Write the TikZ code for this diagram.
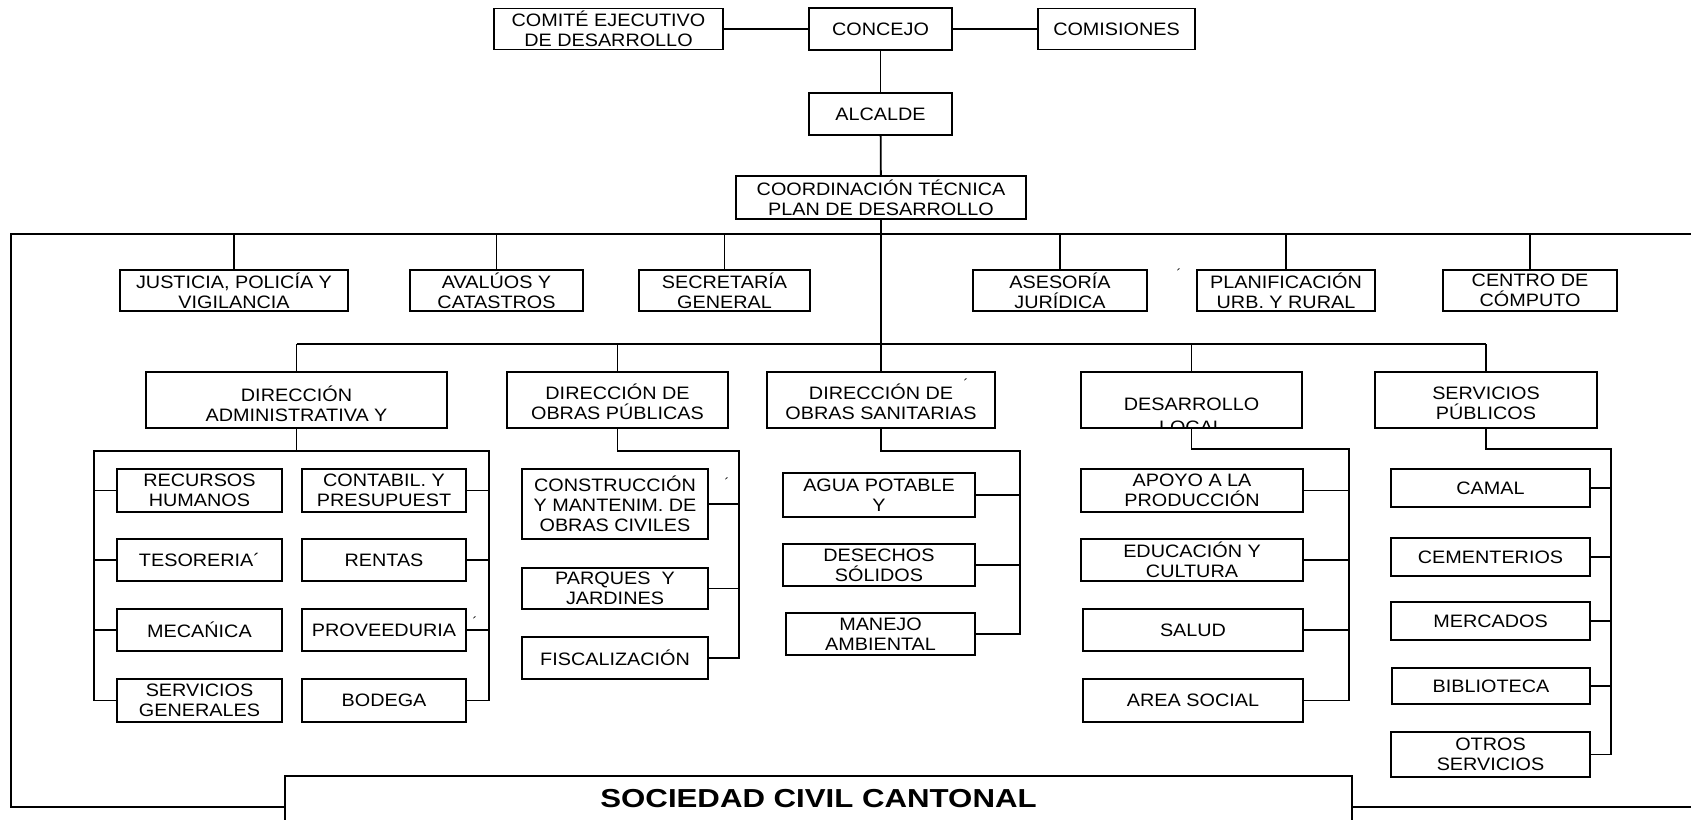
\documentclass[tikz,border=0pt]{standalone}
\usepackage{fontspec}
\setmainfont{Liberation Sans}[FakeStretch=1.1]
\newfontfamily\socfont{Liberation Sans}[FakeStretch=1.2]
\usetikzlibrary{calc}
\newcommand\fs{\fontsize{18}{20}\selectfont}
\tikzset{
  bx/.style={draw, line width=1.8pt, inner sep=0pt, align=center, font=\fs},
  txt/.style={inner sep=0pt, align=center, font=\fs},
  ln/.style={line width=1.8pt},
  stray/.style={inner sep=0pt, font=\fontsize{13}{13}\selectfont},
}
\newcommand\obox[6]{\node[bx, minimum width=#4pt, minimum height=#5pt] (#1) at (#2,#3) {#6};}
\begin{document}
\begin{tikzpicture}[x=1pt,y=-1pt]
\useasboundingbox (0,0) rectangle (1691,819);
\clip (0,0) rectangle (1691,819);
\fill[white] (0,0) rectangle (1691,819);

% top
\obox{comite}{608.5}{29}{229}{41}{COMITÉ EJECUTIVO\\DE DESARROLLO}
\obox{concejo}{880.5}{29}{143}{42}{CONCEJO}
\obox{comisiones}{1116.5}{29}{157}{41}{COMISIONES}
\obox{alcalde}{880.5}{114}{143}{42}{ALCALDE}
\obox{coord}{881}{197.5}{290}{43}{COORDINACIÓN TÉCNICA\\PLAN DE DESARROLLO}

% row 2
\obox{justicia}{234}{290.5}{228}{41}{JUSTICIA, POLICÍA Y\\VIGILANCIA}
\obox{avaluos}{496.5}{290.5}{173}{41}{AVALÚOS Y\\CATASTROS}
\obox{secretaria}{724.5}{290.5}{171}{41}{SECRETARÍA\\GENERAL}
\obox{asesoria}{1060}{290.5}{174}{41}{ASESORÍA\\JURÍDICA}
\obox{planif}{1286}{290.5}{178}{41}{PLANIFICACIÓN\\URB. Y RURAL}
\obox{centro}{1530}{290.5}{174}{41}{CENTRO DE\\CÓMPUTO}

% direcciones
\obox{dadm}{296.5}{400}{301}{56}{}
\obox{dobras}{617.5}{400}{221}{56}{}
\obox{dsan}{881}{400}{228}{56}{}
\obox{ddes}{1191.5}{400}{221}{56}{}
\obox{dserv}{1486}{400}{222}{56}{}
\node[txt] (dadmT) at (296.5,404) {DIRECCIÓN\\ADMINISTRATIVA Y};
\node[txt] (dobrasT) at (617.5,402) {DIRECCIÓN DE\\OBRAS PÚBLICAS};
\node[txt] (dsanT) at (881,401.5) {DIRECCIÓN DE\\OBRAS SANITARIAS};
\node[txt] (dservT) at (1486,403.5) {SERVICIOS\\PÚBLICOS};
\begin{scope}
\clip (1082,373) rectangle (1301,426);
\node[txt] (ddesT) at (1191.5,416) {DESARROLLO\\[2.5pt]LOCAL};
\end{scope}

% administrativa
\obox{rh}{199.5}{490.5}{165}{43}{RECURSOS\\HUMANOS}
\obox{cont}{384}{490.5}{164}{43}{CONTABIL. Y\\PRESUPUEST}
\obox{tes}{199.5}{560}{165}{42}{TESORERIA´}
\obox{rent}{384}{560}{164}{42}{RENTAS}
\obox{mec}{199.5}{630}{165}{42}{MECAŃICA}
\obox{prov}{384}{630}{164}{42}{PROVEEDURIA}
\obox{sg}{199.5}{700.5}{165}{43}{SERVICIOS\\GENERALES}
\obox{bod}{384}{700.5}{164}{43}{BODEGA}

% obras publicas
\obox{constr}{615}{504}{186}{70}{CONSTRUCCIÓN\\Y MANTENIM. DE\\OBRAS CIVILES}
\obox{parques}{615}{588.5}{186}{41}{PARQUES\ \ Y\\JARDINES}
\obox{fisc}{615}{658}{186}{42}{FISCALIZACIÓN}

% obras sanitarias
\obox{agua}{879}{495}{192}{44}{AGUA POTABLE\\Y}
\obox{desechos}{879}{565}{192}{42}{DESECHOS\\SÓLIDOS}
\obox{manejo}{880.5}{634}{189}{42}{MANEJO\\AMBIENTAL}

% desarrollo local
\obox{apoyo}{1192}{490.5}{222}{43}{APOYO A LA\\PRODUCCIÓN}
\obox{educ}{1192}{560}{222}{42}{EDUCACIÓN Y\\CULTURA}
\obox{salud}{1193}{630}{220}{42}{SALUD}
\obox{area}{1193}{700.5}{220}{43}{AREA SOCIAL}

% servicios publicos
\obox{camal}{1490.5}{488}{199}{38}{CAMAL}
\obox{cement}{1490.5}{557}{199}{38}{CEMENTERIOS}
\obox{mercados}{1490.5}{621}{199}{38}{MERCADOS}
\obox{biblio}{1491}{686}{198}{36}{BIBLIOTECA}
\obox{otros}{1490.5}{754.5}{199}{45}{OTROS\\SERVICIOS}

% sociedad civil
\obox{soc}{818.5}{799}{1067}{46}{{\socfont\bfseries\fontsize{26}{28}\selectfont SOCIEDAD CIVIL CANTONAL}}

% stray marks
\node[stray] (s1) at (1179,274) {´};
\node[stray] (s2) at (966,384) {´};
\node[stray] (s3) at (475,622) {´};
\node[stray] (s4) at (727,483) {´};

% connectors top
\draw[ln] (comite) -- (concejo);
\draw[ln] (concejo) -- (comisiones);
\draw[ln] (concejo) -- (alcalde);
\draw[ln] (alcalde) -- (coord);
\draw[ln] (coord) -- (dsan);

% frame
\coordinate (fTL) at (11,234);
\coordinate (fTR) at (1700,234);
\coordinate (fBL) at (11,807);
\coordinate (fBR) at (1700,807);
\draw[ln] (fTR) -- (fTL) -- (fBL) -- (fBL -| soc.west);
\draw[ln] (soc.east |- fBR) -- (fBR);

\foreach \n in {justicia,avaluos,secretaria,asesoria,planif,centro}
  \draw[ln] (\n.north) -- (\n.north |- fTL);

% bus
\coordinate (busY) at (0,344);
\draw[ln] (dadm.north |- busY) -- (dserv.north |- busY);
\foreach \n in {dadm,dobras,ddes,dserv}
  \draw[ln] (\n.north) -- (\n.north |- busY);

% administrativa bracket
\coordinate (admL) at (94,451);
\coordinate (admR) at (489,451);
\draw[ln] (dadm.south) -- (dadm.south |- admL);
\draw[ln] (sg.west) -- (sg.west -| admL) -- (admL) -- (admR) -- (admR |- bod.east) -- (bod.east);
\foreach \n in {rh,tes,mec}
  \draw[ln] (\n.west) -- (\n.west -| admL);
\foreach \n in {cont,rent,prov}
  \draw[ln] (\n.east) -- (\n.east -| admR);

% obras publicas bracket
\coordinate (obT) at (739,451);
\draw[ln] (dobras.south) -- (dobras.south |- obT) -- (obT) -- (obT |- fisc.east) -- (fisc.east);
\foreach \n in {constr,parques}
  \draw[ln] (\n.east) -- (\n.east -| obT);

% obras sanitarias bracket
\coordinate (sanT) at (1020,451);
\draw[ln] (dsan.south) -- (dsan.south |- sanT) -- (sanT) -- (sanT |- manejo.east) -- (manejo.east);
\foreach \n in {agua,desechos}
  \draw[ln] (\n.east) -- (\n.east -| sanT);

% desarrollo bracket
\coordinate (desT) at (1349,449);
\draw[ln] (ddes.south) -- (ddes.south |- desT) -- (desT) -- (desT |- area.east) -- (area.east);
\foreach \n in {apoyo,educ,salud}
  \draw[ln] (\n.east) -- (\n.east -| desT);

% servicios bracket
\coordinate (serT) at (1611,449);
\draw[ln] (dserv.south) -- (dserv.south |- serT) -- (serT) -- (serT |- otros.east) -- (otros.east);
\foreach \n in {camal,cement,mercados,biblio}
  \draw[ln] (\n.east) -- (\n.east -| serT);
\end{tikzpicture}
\end{document}
